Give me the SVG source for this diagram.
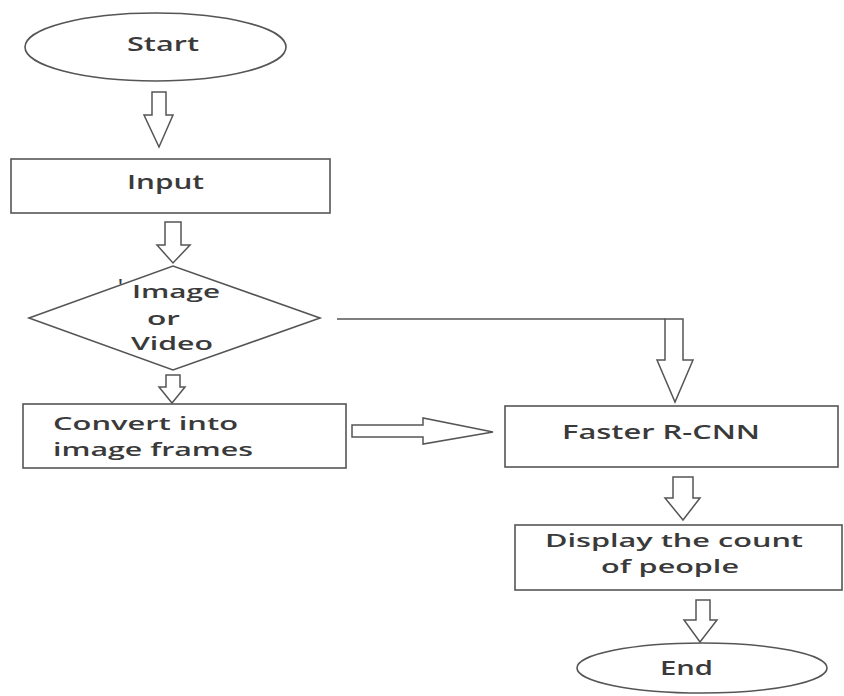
<svg xmlns="http://www.w3.org/2000/svg" width="844" height="696" viewBox="0 0 844 696">
  <style>
    .shape { fill: #ffffff; stroke: #555555; stroke-width: 1.6; }
    .conn { fill: #ffffff; stroke: #555555; stroke-width: 1.5; stroke-linejoin: miter; }
    .line { fill: none; stroke: #555555; stroke-width: 1.5; }
    .label { font-family: "Open Sans", "Noto Sans", "Liberation Sans", sans-serif; font-size: 20px; font-weight: 600; fill: #3a3a3a; }
    .two { font-size: 18px; }
  </style>
  <rect width="844" height="696" fill="#ffffff"/>

  <!-- nodes -->
  <g id="start">
    <ellipse class="shape" cx="155.5" cy="47" rx="130.5" ry="34"/>
    <text class="label" x="127" y="51" textLength="72" lengthAdjust="spacingAndGlyphs">Start</text>
  </g>

  <g id="input">
    <rect class="shape" x="11" y="159" width="319" height="54"/>
    <text class="label" x="127" y="189" textLength="77" lengthAdjust="spacingAndGlyphs">Input</text>
  </g>

  <g id="decision">
    <polygon class="shape" points="29,318 173,266 320,318 173,370"/>
    <text class="label" x="118" y="293" font-size="12">'</text>
    <text class="label two" x="132" y="298" textLength="88" lengthAdjust="spacingAndGlyphs">Image</text>
    <text class="label two" x="147" y="325" textLength="33" lengthAdjust="spacingAndGlyphs">or</text>
    <text class="label two" x="131" y="350" textLength="82" lengthAdjust="spacingAndGlyphs">Video</text>
  </g>

  <g id="convert">
    <rect class="shape" x="23" y="404" width="323" height="64"/>
    <text class="label two" x="53" y="430" textLength="185" lengthAdjust="spacingAndGlyphs">Convert into</text>
    <text class="label two" x="53" y="456" textLength="200" lengthAdjust="spacingAndGlyphs">image frames</text>
  </g>

  <g id="faster-rcnn">
    <rect class="shape" x="505" y="406" width="333" height="61"/>
    <text class="label" x="562" y="439" textLength="198" lengthAdjust="spacingAndGlyphs">Faster R-CNN</text>
  </g>

  <g id="display">
    <rect class="shape" x="515" y="525" width="327" height="65"/>
    <text class="label two" x="545" y="547" textLength="258" lengthAdjust="spacingAndGlyphs">Display the count</text>
    <text class="label two" x="601" y="572.5" textLength="138" lengthAdjust="spacingAndGlyphs">of people</text>
  </g>

  <g id="end">
    <ellipse class="shape" cx="702" cy="668" rx="125" ry="25"/>
    <text class="label" x="660" y="675" textLength="53" lengthAdjust="spacingAndGlyphs">End</text>
  </g>

  <!-- connectors: hollow block arrows -->
  <g id="connectors">
    <polygon class="conn" points="152,92 166,92 166,115 173,115 159,147 144,115 152,115"/>
    <polygon class="conn" points="165,222 181,222 181,245 190,245 173,263 157,245 165,245"/>
    <polygon class="conn" points="166,375 180,375 180,387 185,387 172,403 159,387 166,387"/>
    <polygon class="conn" points="352,425 423,425 423,418 493,432 423,444 423,437 352,437"/>
    <line class="line" x1="337" y1="319" x2="665" y2="319"/>
    <polygon class="conn" points="665,319 683,319 683,360 693,360 675,402 657,360 665,360"/>
    <polygon class="conn" points="673,477 693,477 693,498 700,498 683,520 665,498 673,498"/>
    <polygon class="conn" points="696,600 710,600 710,620 717,620 700,642 684,620 696,620"/>
  </g>
</svg>
